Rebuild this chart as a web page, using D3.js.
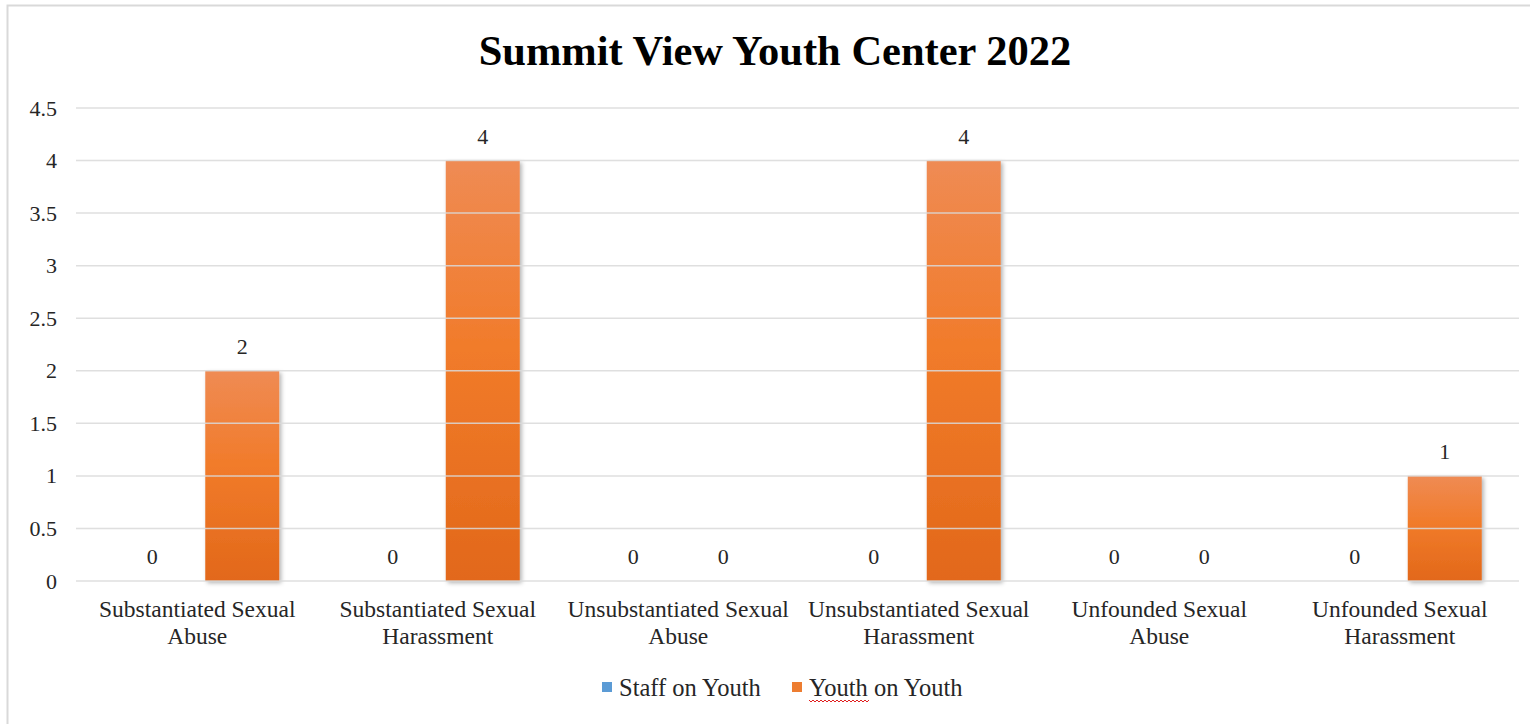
<!DOCTYPE html>
<html>
<head>
<meta charset="utf-8">
<script src="https://cdn.jsdelivr.net/npm/d3@7"></script>
<style>
  html, body { margin: 0; padding: 0; background: #fff; }
  svg { display: block; }
  text { font-family: "Liberation Serif", "Times New Roman", serif; fill: #262626; }
</style>
</head>
<body>
<svg id="chart" width="1530" height="724"></svg>
<script>
const title = "Summit View Youth Center 2022";
const categories = [
  ["Substantiated Sexual", "Abuse"],
  ["Substantiated Sexual", "Harassment"],
  ["Unsubstantiated Sexual", "Abuse"],
  ["Unsubstantiated Sexual", "Harassment"],
  ["Unfounded Sexual", "Abuse"],
  ["Unfounded Sexual", "Harassment"]
];
const seriesNames = ["Staff on Youth", "Youth on Youth"];
const staffOnYouth = [0, 0, 0, 0, 0, 0];
const youthOnYouth = [2, 4, 0, 4, 0, 1];
const yTicks = [0, 0.5, 1, 1.5, 2, 2.5, 3, 3.5, 4, 4.5];
const seriesColors = ["#5B9BD5", "#ED7D31"];

const svg = d3.select("#chart");
const defs = svg.append("defs");

const grad = defs.append("linearGradient").attr("id", "orangeGrad")
  .attr("x1", 0).attr("y1", 0).attr("x2", 0).attr("y2", 1);
grad.append("stop").attr("offset", "0%").attr("stop-color", "#EF8B54");
grad.append("stop").attr("offset", "45%").attr("stop-color", "#F17B2A");
grad.append("stop").attr("offset", "100%").attr("stop-color", "#E2681A");

const gradB = defs.append("linearGradient").attr("id", "blueGrad")
  .attr("x1", 0).attr("y1", 0).attr("x2", 0).attr("y2", 1);
gradB.append("stop").attr("offset", "0%").attr("stop-color", "#71A6DB");
gradB.append("stop").attr("offset", "100%").attr("stop-color", "#4A8AC9");

const shadow = defs.append("filter").attr("id", "shadow")
  .attr("x", "-20%").attr("y", "-5%").attr("width", "140%").attr("height", "115%");
shadow.append("feDropShadow").attr("dx", 2).attr("dy", 2).attr("stdDeviation", 2)
  .attr("flood-color", "#000").attr("flood-opacity", 0.3);

// outer border
svg.append("rect").attr("x", 7.5).attr("y", 5.5).attr("width", 1700).attr("height", 900)
  .attr("fill", "none").attr("stroke", "#D9D9D9").attr("stroke-width", 2);

const plotLeft = 76, plotRight = 1519;
const x0 = d3.scaleBand().domain(d3.range(categories.length)).range([plotLeft + 1, plotRight + 1]).padding(0);
const x1 = d3.scaleBand().domain(seriesNames).range([0, x0.bandwidth()])
  .paddingInner(0.178).paddingOuter(0.425);
const y = d3.scaleLinear().domain([0, 4.5]).range([581, 108]);

// title
svg.append("text").attr("x", 775).attr("y", 65).attr("text-anchor", "middle")
  .style("font-size", "42.5px").style("font-weight", "bold").style("fill", "#000")
  .text(title);

// y axis labels
const yAxis = d3.axisLeft(y).tickValues(yTicks).tickSize(0).tickPadding(0)
  .tickFormat(d => String(d));
const yg = svg.append("g").attr("transform", `translate(57,0)`).call(yAxis);
yg.select(".domain").remove();
yg.selectAll("text").style("font-size", "22px").style("font-family", "Liberation Serif, serif")
  .attr("fill", "#262626");

const data = categories.map((c, i) => ({ i, values: [staffOnYouth[i], youthOnYouth[i]] }));

// bars
const groups = svg.append("g").selectAll("g").data(data).join("g")
  .attr("transform", d => `translate(${x0(d.i)},0)`);
groups.selectAll("rect").data(d => d.values.map((v, k) => ({ v, k })))
  .join("rect")
  .filter(d => d.v > 0)
  .attr("x", d => x1(seriesNames[d.k]))
  .attr("y", d => y(d.v))
  .attr("width", x1.bandwidth())
  .attr("height", d => y(0) - y(d.v))
  .attr("fill", d => d.k === 1 ? "url(#orangeGrad)" : "url(#blueGrad)")
  .attr("filter", "url(#shadow)");

// gridlines (drawn over bars, semi-transparent)
svg.append("g").selectAll("line").data(yTicks).join("line")
  .attr("x1", plotLeft).attr("x2", plotRight)
  .attr("y1", d => y(d)).attr("y2", d => y(d))
  .attr("stroke", "#D9D9D9").attr("stroke-width", 1.5).attr("stroke-opacity", 0.85);

// data labels
groups.selectAll("text.val").data(d => d.values.map((v, k) => ({ v, k })))
  .join("text").attr("class", "val")
  .attr("x", d => x1(seriesNames[d.k]) + x1.bandwidth() / 2)
  .attr("y", d => y(d.v) - 17)
  .attr("text-anchor", "middle")
  .style("font-size", "22px")
  .text(d => d.v);

// category labels
const xl = svg.append("g");
categories.forEach((lines, i) => {
  const t = xl.append("text").attr("x", x0(i) + x0.bandwidth() / 2).attr("y", 617)
    .attr("text-anchor", "middle").style("font-size", "23.5px");
  lines.forEach((ln, j) => {
    t.append("tspan").attr("x", x0(i) + x0.bandwidth() / 2).attr("dy", j === 0 ? 0 : 27).text(ln);
  });
});

// legend
const legendItems = [
  { name: seriesNames[0], color: seriesColors[0], x: 602 },
  { name: seriesNames[1], color: seriesColors[1], x: 792 }
];
const lg = svg.append("g");
legendItems.forEach((it, k) => {
  lg.append("rect").attr("x", it.x).attr("y", 682).attr("width", 10).attr("height", 10).attr("fill", it.color);
  const t = lg.append("text").attr("x", it.x + 17).attr("y", 696).style("font-size", "24.5px").text(it.name);
  if (k === 1) {
    // spell-check squiggle under "Youth"
    const x0s = it.x + 17, x1s = x0s + 58;
    let dpath = `M${x0s},700`;
    for (let xx = x0s; xx < x1s; xx += 4) {
      dpath += ` l2,2 l2,-2`;
    }
    lg.append("path").attr("d", dpath).attr("fill", "none").attr("stroke", "#E02020").attr("stroke-width", 1);
  }
});
</script>
</body>
</html>
